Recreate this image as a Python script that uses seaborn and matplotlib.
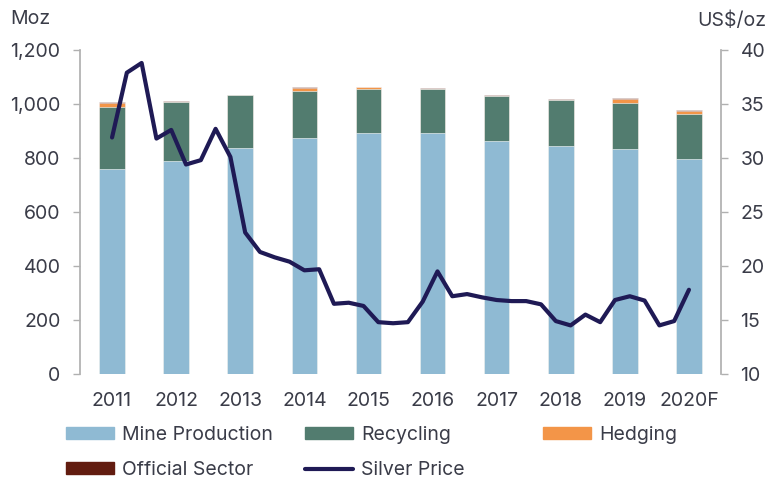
import numpy as np
import pandas as pd
import seaborn as sns
import matplotlib.pyplot as plt
from matplotlib.patches import Patch
from matplotlib.lines import Line2D

# --- data ---
years = ["2011", "2012", "2013", "2014", "2015", "2016", "2017", "2018", "2019", "2020F"]
mine = [760, 790, 838, 875, 891, 891, 863, 846, 833, 796]
recycling = [230, 218, 194, 174, 165, 163, 167, 169, 172, 168]
hedging = [12, 0, 0, 11, 6, 2, 1, 1, 15, 11]
official = [4, 3, 2, 2, 1, 3, 2, 2, 3, 4]

# quarterly silver price, US$/oz (2011 Q1 .. 2020 Q4)
price = [31.9, 37.9, 38.8, 31.8, 32.6, 29.4, 29.8, 32.7, 30.1, 23.1,
         21.3, 20.8, 20.4, 19.6, 19.7, 16.5, 16.6, 16.3, 14.8, 14.7,
         14.8, 16.7, 19.5, 17.2, 17.4, 17.1, 16.85, 16.75, 16.75, 16.45,
         14.9, 14.5, 15.5, 14.8, 16.85, 17.2, 16.8, 14.5, 14.9, 17.8]

c_mine = "#8fbad3"
c_rec = "#527c6f"
c_hedge = "#f39548"
c_off = "#621c10"
c_price = "#1f1a55"
txt = "#3a3c48"
grey = "#b0b0b0"
fs = 14

sns.set_theme(style="white")
plt.rcParams["font.family"] = ["Inter", "DejaVu Sans"]

df = pd.DataFrame({"year": years, "mine": mine, "recycling": recycling,
                   "hedging": hedging, "official": official})
df["l1"] = df["mine"]
df["l2"] = df["l1"] + df["recycling"]
df["l3"] = df["l2"] + df["hedging"]
df["l4"] = df["l3"] + df["official"]

fig = plt.figure(figsize=(7.7, 4.79), dpi=100)
ax = fig.add_axes([80 / 770, 1 - 374 / 479, 641 / 770, 324 / 479])

# stacked bars drawn as overlapping cumulative totals
for col, color in [("l4", c_off), ("l3", c_hedge), ("l2", c_rec), ("l1", c_mine)]:
    sns.barplot(data=df, x="year", y=col, color=color, width=0.4, errorbar=None,
                saturation=1, edgecolor="white", linewidth=0.4, ax=ax)

ax.set_ylim(0, 1200)
ax.set_yticks(range(0, 1201, 200))
ax.set_yticklabels([f"{v:,}" for v in range(0, 1201, 200)])
ax.set_xlabel("")
ax.set_ylabel("")

ax2 = ax.twinx()
qx = np.linspace(0, 9, len(price))
sns.lineplot(x=qx, y=price, color=c_price, linewidth=3, ax=ax2)
ax2.set_ylim(10, 40)
ax2.set_yticks(range(10, 41, 5))
ax.set_xlim(-0.5, 9.5)

for a in (ax, ax2):
    for s in a.spines.values():
        s.set_visible(False)
ax.spines["left"].set_visible(True)
ax.spines["left"].set_color(grey)
ax2.spines["right"].set_visible(True)
ax2.spines["right"].set_color(grey)

ax.tick_params(axis="y", left=True, length=5, width=1, color=grey, pad=9,
               labelsize=fs, labelcolor=txt)
ax.tick_params(axis="x", length=0, pad=13, labelsize=fs, labelcolor=txt)
ax2.tick_params(axis="y", right=True, length=5, width=1, color=grey, pad=9,
                labelsize=fs, labelcolor=txt)

fig.text(10 / 770, 1 - 19 / 479, "Moz", fontsize=fs, color=txt, va="center", ha="left")
fig.text(766 / 770, 1 - 21 / 479, "US$/oz", fontsize=fs, color=txt, va="center", ha="right")

# legend: three columns placed separately
cols = [
    ([Patch(color=c_mine), Patch(color=c_off)], ["Mine Production", "Official Sector"], 66),
    ([Patch(color=c_rec), Line2D([], [], color=c_price, lw=3)], ["Recycling", "Silver Price"], 305),
    ([Patch(color=c_hedge)], ["Hedging"], 543),
]
for handles, labels, x0 in cols:
    fig.legend(handles, labels, loc="upper left", bbox_to_anchor=(x0 / 770, 1 - 426 / 479),
               frameon=False, fontsize=fs, handlelength=2.47, handleheight=0.57,
               handletextpad=0.41, labelspacing=0.88, borderaxespad=0, borderpad=0,
               labelcolor=txt)

fig.savefig("out.png", dpi=100)
